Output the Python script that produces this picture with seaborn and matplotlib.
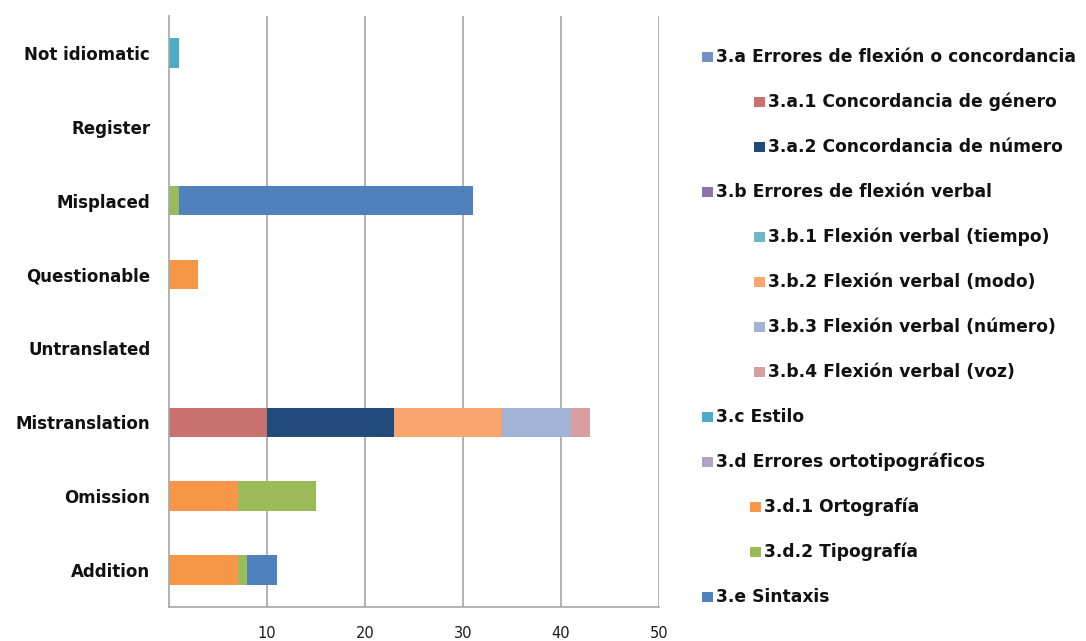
import matplotlib
matplotlib.use("Agg")
import matplotlib.pyplot as plt
import seaborn as sns
import numpy as np
import pandas as pd
from matplotlib.patches import Rectangle

# ---------------- data ----------------
categories = ["Not idiomatic", "Register", "Misplaced", "Questionable",
              "Untranslated", "Mistranslation", "Omission", "Addition"]

series_names = [
    "3.a Errores de flexión o concordancia",
    "3.a.1 Concordancia de género",
    "3.a.2 Concordancia de número",
    "3.b Errores de flexión verbal",
    "3.b.1 Flexión verbal (tiempo)",
    "3.b.2 Flexión verbal (modo)",
    "3.b.3 Flexión verbal (número)",
    "3.b.4 Flexión verbal (voz)",
    "3.c Estilo",
    "3.d Errores ortotipográficos",
    "3.d.1 Ortografía",
    "3.d.2 Tipografía",
    "3.e Sintaxis",
]
series_level = [0, 1, 1, 0, 1, 1, 1, 1, 0, 0, 1, 1, 0]
series_colors = ["#7193c5", "#c8716f", "#224a7c", "#8a75ab", "#6cb6cd",
                 "#f8a56e", "#a2b4d5", "#d99e9e", "#4bacc6", "#b1a3c7",
                 "#f79646", "#9bbb59", "#4f81bd"]

# values per series, in category order above
v_3a  = [0, 0, 0, 0, 0, 0, 0, 0]
v_3a1 = [0, 0, 0, 0, 0, 10, 0, 0]
v_3a2 = [0, 0, 0, 0, 0, 13, 0, 0]
v_3b  = [0, 0, 0, 0, 0, 0, 0, 0]
v_3b1 = [0, 0, 0, 0, 0, 0, 0, 0]
v_3b2 = [0, 0, 0, 0, 0, 11, 0, 0]
v_3b3 = [0, 0, 0, 0, 0, 7, 0, 0]
v_3b4 = [0, 0, 0, 0, 0, 2, 0, 0]
v_3c  = [1, 0, 0, 0, 0, 0, 0, 0]
v_3d  = [0, 0, 0, 0, 0, 0, 0, 0]
v_3d1 = [0, 0, 0, 3, 0, 0, 7, 7]
v_3d2 = [0, 0, 1, 0, 0, 0, 8, 1]
v_3e  = [0, 0, 30, 0, 0, 0, 0, 3]
series_values = [v_3a, v_3a1, v_3a2, v_3b, v_3b1, v_3b2, v_3b3, v_3b4,
                 v_3c, v_3d, v_3d1, v_3d2, v_3e]

x_ticks = [0, 10, 20, 30, 40, 50]
x_ticklabels = ["", "10", "20", "30", "40", "50"]

# ---------------- plot ----------------
sns.set_theme(style="white")
plt.rcParams["font.family"] = ["DejaVu Sans"]

W, H = 1086, 641
fig = plt.figure(figsize=(10.86, 6.41), dpi=100)
ax = fig.add_axes([169 / W, 1 - 607 / H, (659 - 169) / W, (607 - 16) / H])

vals = np.array(series_values, dtype=float)
cum = np.cumsum(vals, axis=0)

# draw cumulative totals from the last series back to the first (stacking)
for i in range(len(series_names) - 1, -1, -1):
    df = pd.DataFrame({"cat": categories, "val": cum[i]})
    sns.barplot(data=df, x="val", y="cat", order=categories, orient="h",
                color=series_colors[i], saturation=1, width=0.4,
                errorbar=None, linewidth=0, ax=ax)

ax.set_xlim(0, 50)
ax.set_ylim(7.5, -0.5)
ax.set_xlabel("")
ax.set_ylabel("")

grid_c = "#a6a6a6"
ax.set_xticks(x_ticks)
ax.set_xticklabels(x_ticklabels, fontsize=10.5, color="#1a1a1a")
for xv in x_ticks[1:]:
    ax.axvline(xv, color=grid_c, lw=1.2, zorder=0)
ax.set_axisbelow(True)

ax.set_yticks(range(len(categories)))
ax.set_yticklabels(categories, fontsize=12, fontweight="bold", color="#111111")
ax.set_yticks(np.arange(-0.5, 8.0, 1.0), minor=True)
ax.tick_params(axis="y", which="major", length=0, pad=13.5)
ax.tick_params(axis="y", which="minor", length=5, width=1.2, color=grid_c, direction="out")
ax.tick_params(axis="x", which="major", length=5, width=1.2, color=grid_c,
               direction="out", pad=8.5)

for s in ["top", "right"]:
    ax.spines[s].set_visible(False)
for s in ["left", "bottom"]:
    ax.spines[s].set_color(grid_c)
    ax.spines[s].set_linewidth(1.2)

# ---------------- legend (manual, with indentation) ----------------
y0, dy = 57, 45
for i, name in enumerate(series_names):
    yc = y0 + i * dy
    if series_level[i] == 0:
        mx = 702
    else:
        mx = 750 if name.startswith("3.d") else 754
    fig.patches.append(Rectangle((mx / W, 1 - (yc + 5) / H), 11 / W, 10 / H,
                                 transform=fig.transFigure,
                                 facecolor=series_colors[i], edgecolor="none"))
    fig.text((mx + 14) / W, 1 - yc / H, name, fontsize=12.3, fontweight="bold",
             color="#111111", va="center", ha="left")

fig.savefig("out.png", dpi=100)
